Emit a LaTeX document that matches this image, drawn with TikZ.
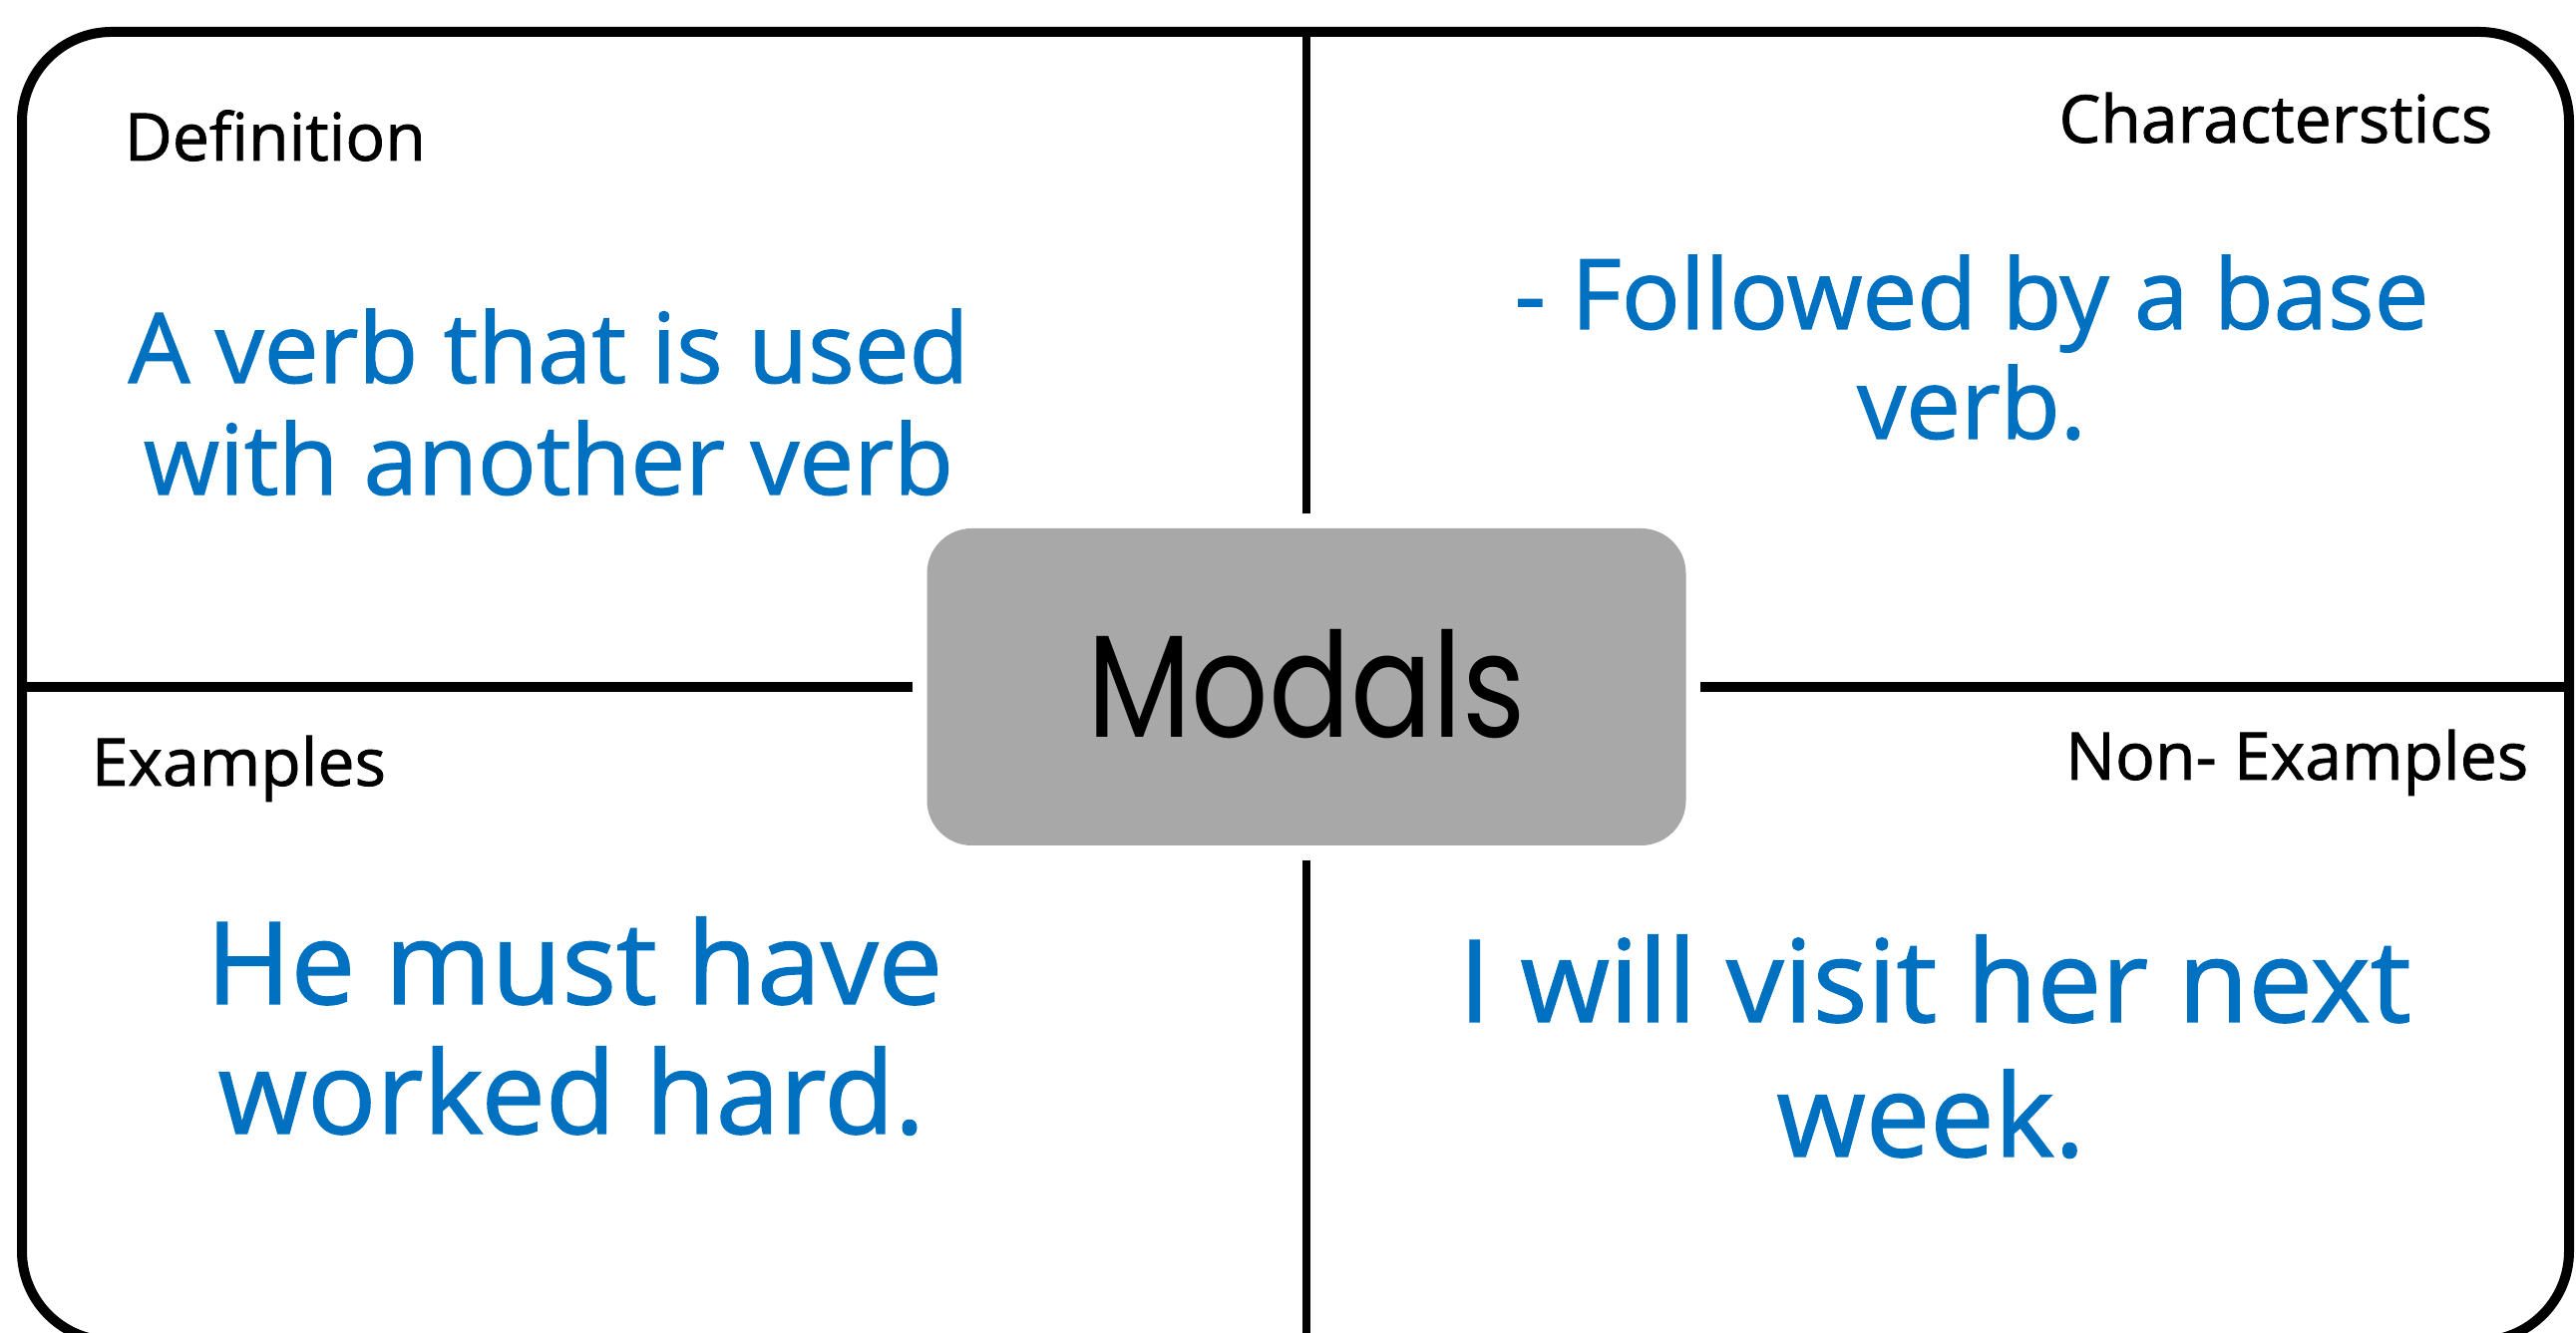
\documentclass[tikz,border=0pt]{standalone}
\usepackage{fontspec}
\setmainfont{Open Sans}[FakeBold=1.2]
\newfontfamily\gothicfont{Poppins}[FakeStretch=0.83]
\definecolor{verbblue}{RGB}{0,112,192}
\definecolor{hubgray}{RGB}{168,168,168}

\begin{document}
\begin{tikzpicture}[
		heading/.style={font=\fontsize{18.8}{22}\selectfont, inner sep=0pt},
		upper/.style={font=\fontsize{27.8}{32}\selectfont, text=verbblue, inner sep=0pt, anchor=base},
		lower/.style={font=\fontsize{32.7}{38}\selectfont, text=verbblue, inner sep=0pt, anchor=base},
		divider/.style={line width=0.1cm, shorten <=0.14cm},
	]
	\useasboundingbox (0,0) rectangle (25.83,13.37);
	\clip (0,0) rectangle (25.83,13.37);
	\node[draw, line width=0.1cm, rounded corners=0.9cm, minimum width=25.54cm, minimum height=13.13cm, inner sep=0pt] (frame) at (12.99,6.485) {};
	\node[fill=hubgray, rounded corners=0.45cm, minimum width=7.61cm, minimum height=3.18cm, inner sep=0pt, font=\gothicfont\fontsize{41.6}{48}\selectfont] (hub) at (13.10,6.48) {\raisebox{0.07cm}{Modals}};
	\draw[divider, line width=0.08cm] (hub.north) -- (hub.north |- frame.north);
	\draw[divider, line width=0.08cm] (hub.south) -- (hub.south |- frame.south);
	\draw[divider] (hub.west) -- (hub.west -| frame.west);
	\draw[divider] (hub.east) -- (hub.east -| frame.east);
	\node[heading, anchor=base west] (defhead) at (1.24,11.76) {Definition};
	\node[heading, anchor=base east] (charhead) at (25.00,11.94) {Characterstics};
	\node[heading, anchor=base west] (exhead) at (0.91,5.49) {Examples};
	\node[heading, anchor=base east] (nonhead) at (25.36,5.55) {Non- Examples};
	\node[upper] (defA) at (5.50,9.53) {A verb that is used};
	\node[upper] (defB) at (5.50,8.41) {with another verb};
	\node[upper] (charA) at (19.77,10.07) {- Followed by a base};
	\node[upper] (charB) at (19.77,8.97) {verb.};
	\node[lower] (exA) at (5.76,3.30) {He must have};
	\node[lower] (exB) at (5.73,2.00) {worked hard.};
	\node[lower] (nonA) at (19.40,3.12) {I will visit her next};
	\node[lower] (nonB) at (19.36,1.77) {week.};
\end{tikzpicture}
\end{document}
